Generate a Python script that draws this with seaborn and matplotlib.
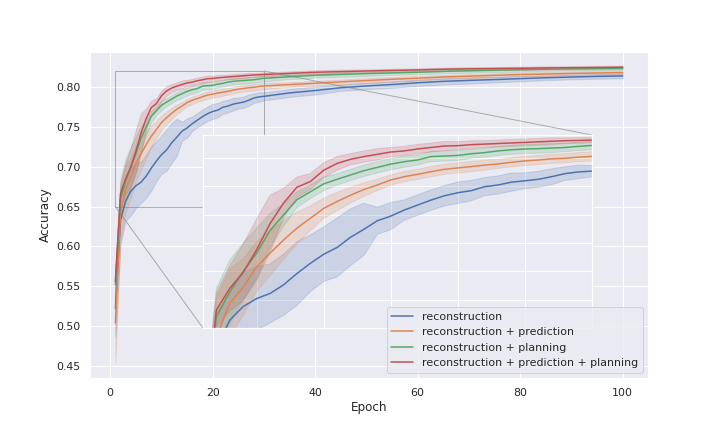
import pandas as pd
import seaborn as sns
import matplotlib
matplotlib.use('Agg')
import matplotlib.pyplot as plt
from matplotlib.ticker import MultipleLocator
from mpl_toolkits.axes_grid1.inset_locator import mark_inset

sns.set_theme(style='darkgrid')

# epochs (every epoch up to 30, then every 5)
epochs = list(range(1, 31)) + list(range(35, 101, 5))

labels = ['reconstruction',
          'reconstruction + prediction',
          'reconstruction + planning',
          'reconstruction + prediction + planning']

# mean accuracy per model
rec = [0.522, 0.633, 0.657, 0.669, 0.676, 0.6805, 0.688, 0.698, 0.707, 0.715,
       0.721, 0.730, 0.737, 0.7445, 0.7486, 0.7539, 0.7583, 0.7627, 0.7665, 0.7692,
       0.771, 0.7745, 0.776, 0.7785, 0.7797, 0.781, 0.7833, 0.786, 0.7875, 0.7882,
       0.7925, 0.7955, 0.799, 0.8012, 0.803, 0.8052, 0.807, 0.8082, 0.8092, 0.8104,
       0.8115, 0.8124, 0.8132, 0.8138]
rec_pred = [0.504, 0.642, 0.672, 0.686, 0.704, 0.716, 0.7275, 0.738, 0.7466, 0.7554,
            0.7615, 0.767, 0.772, 0.776, 0.7804, 0.7833, 0.7854, 0.7877, 0.7898, 0.791,
            0.7922, 0.7935, 0.7945, 0.796, 0.7972, 0.798, 0.799, 0.7995, 0.8005, 0.8012,
            0.803, 0.8046, 0.8064, 0.808, 0.8096, 0.8109, 0.8125, 0.8135, 0.8145, 0.8155,
            0.8162, 0.8169, 0.8175, 0.818]
rec_plan = [0.552, 0.660, 0.682, 0.700, 0.716, 0.736, 0.7495, 0.763, 0.770, 0.777,
            0.781, 0.7848, 0.7886, 0.7915, 0.7944, 0.7965, 0.798, 0.801, 0.8015, 0.802,
            0.8035, 0.8045, 0.806, 0.807, 0.8077, 0.808, 0.8085, 0.809, 0.810, 0.8108,
            0.8128, 0.8146, 0.8157, 0.8167, 0.8176, 0.8184, 0.8195, 0.8203, 0.821, 0.8216,
            0.8222, 0.8227, 0.8231, 0.8234]
rec_pred_plan = [0.556, 0.666, 0.685, 0.699, 0.719, 0.742, 0.760, 0.774, 0.779, 0.789,
                 0.795, 0.7986, 0.801, 0.803, 0.805, 0.806, 0.8077, 0.809, 0.8103, 0.8106,
                 0.8115, 0.812, 0.8125, 0.813, 0.8135, 0.814, 0.8145, 0.815, 0.8152, 0.8156,
                 0.817, 0.8184, 0.8192, 0.820, 0.8207, 0.8213, 0.8222, 0.8227, 0.823, 0.8234,
                 0.8238, 0.8241, 0.8244, 0.8247]

# half width of the shaded band
rec_err = [0.035, 0.03, 0.025, 0.03, 0.028, 0.026, 0.027, 0.028, 0.025, 0.024,
           0.026, 0.025, 0.023, 0.012, 0.012, 0.009, 0.009, 0.009, 0.009, 0.0095,
           0.009, 0.008, 0.008, 0.008, 0.007, 0.007, 0.007, 0.006, 0.006, 0.005,
           0.005, 0.005, 0.004, 0.004, 0.004, 0.004, 0.004, 0.004, 0.0035, 0.0035,
           0.003, 0.003, 0.003, 0.003]
rec_pred_err = [0.05, 0.035, 0.03, 0.025, 0.022, 0.02, 0.017, 0.014, 0.011, 0.009,
                0.008, 0.007, 0.006, 0.005, 0.0045, 0.0045, 0.0045, 0.0045, 0.0045, 0.0045,
                0.0045, 0.0045, 0.004, 0.004, 0.004, 0.004, 0.004, 0.004, 0.004, 0.004,
                0.003, 0.003, 0.003, 0.003, 0.003, 0.003, 0.0025, 0.0025, 0.0025, 0.0025,
                0.0025, 0.0025, 0.0025, 0.0025]
rec_plan_err = [0.02, 0.025, 0.028, 0.025, 0.022, 0.015, 0.01, 0.007, 0.006, 0.006,
                0.005, 0.005, 0.005, 0.005, 0.005, 0.005, 0.0045, 0.0045, 0.0045, 0.0045,
                0.004, 0.004, 0.004, 0.004, 0.004, 0.004, 0.004, 0.0037, 0.0037, 0.0037,
                0.003, 0.003, 0.003, 0.003, 0.0025, 0.0025, 0.0025, 0.0025, 0.0025, 0.0025,
                0.002, 0.002, 0.002, 0.002]
rec_pred_plan_err = [0.02, 0.015, 0.02, 0.025, 0.027, 0.025, 0.013, 0.009, 0.007, 0.0066,
                     0.006, 0.005, 0.005, 0.005, 0.004, 0.004, 0.004, 0.004, 0.004, 0.0035,
                     0.0035, 0.003, 0.003, 0.003, 0.003, 0.003, 0.003, 0.0025, 0.0025, 0.0025,
                     0.0025, 0.0025, 0.0025, 0.002, 0.002, 0.002, 0.002, 0.002, 0.002, 0.002,
                     0.002, 0.002, 0.002, 0.002]

means = [rec, rec_pred, rec_plan, rec_pred_plan]
errs = [rec_err, rec_pred_err, rec_plan_err, rec_pred_plan_err]

# long form: lower / mean / upper per epoch, so seaborn draws the median line
# and the min-max band
rows = []
for lab, m, e in zip(labels, means, errs):
    for ep, v, h in zip(epochs, m, e):
        for val in (v - h, v, v + h):
            rows.append({'Epoch': ep, 'Accuracy': val, 'Model': lab})
df = pd.DataFrame(rows)

fig, ax = plt.subplots(figsize=(10, 6))
fig.subplots_adjust(left=0.125, right=0.9, top=0.88, bottom=0.125)
sns.lineplot(data=df, x='Epoch', y='Accuracy', hue='Model', hue_order=labels,
             estimator='median', errorbar=('pi', 100), ax=ax)
ax.set_ylim(0.435, 0.844)

# zoomed inset for the first 30 epochs
axins = ax.inset_axes([0.2025, 0.153, 0.697, 0.592])
sns.lineplot(data=df, x='Epoch', y='Accuracy', hue='Model', hue_order=labels,
             estimator='median', errorbar=('pi', 100), ax=axins, legend=False)
axins.set_xlim(1, 30)
axins.set_ylim(0.65, 0.82)
axins.xaxis.set_major_locator(MultipleLocator(5))
axins.yaxis.set_major_locator(MultipleLocator(0.025))
axins.tick_params(labelleft=False, labelbottom=False)
axins.set_xlabel('')
axins.set_ylabel('')
mark_inset(ax, axins, loc1=1, loc2=3, fc='none', ec='0.5', alpha=0.6)

leg = ax.legend(loc='lower right')
leg.set_zorder(10)

plt.savefig('out.png', dpi=72)
